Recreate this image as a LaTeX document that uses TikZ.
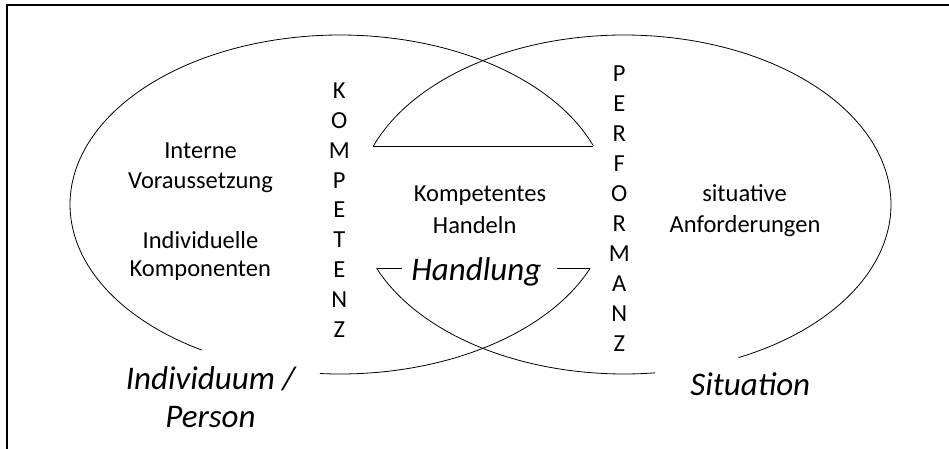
\documentclass[tikz,border=0pt]{standalone}
\usepackage{fontspec}
\setmainfont{Carlito}
\begin{document}
\begin{tikzpicture}[x=1pt,y=-1pt]
\useasboundingbox (0,0) rectangle (949,449);
\tikzset{
  lbl/.style={anchor=base, inner sep=0pt, font=\fontsize{24.5}{29}\selectfont},
  big/.style={anchor=base, inner sep=0pt, font=\fontsize{33}{38}\selectfont\itshape},
  curve/.style={line width=0.8pt, black},
  frameline/.style={line width=1.5pt, black}
}
% frame
\coordinate (f1) at (949,5);
\coordinate (f2) at (7,5);
\coordinate (f3) at (7,449);
\draw[frameline] (f1) -- (f2) -- (f3);

% left ellipse (Individuum / Person)
\draw[curve] plot[domain=120.8:339.8, samples=150] ({340+270*cos(\x)},{204.5+169.5*sin(\x)});
\draw[curve] plot[domain=22.1:94.3, samples=60] ({340+270*cos(\x)},{204.5+169.5*sin(\x)});
% right ellipse (Situation)
\draw[curve] plot[domain=200.2:424.6, samples=150] ({624+267*cos(\x)},{204.5+169.5*sin(\x)});
\draw[curve] plot[domain=83.3:157.9, samples=60] ({624+267*cos(\x)},{204.5+169.5*sin(\x)});

% line ends
\coordinate (LT) at ({340+270*cos(339.8)},{204.5+169.5*sin(339.8)});
\coordinate (RT) at ({624+267*cos(200.2)},{204.5+169.5*sin(200.2)});
\coordinate (LB) at ({340+270*cos(22.1)},{204.5+169.5*sin(22.1)});
\coordinate (RB) at ({624+267*cos(157.9)},{204.5+169.5*sin(157.9)});
\coordinate (LBe) at (557,{204.5+169.5*sin(22.1)});
\coordinate (RBe) at (402,{204.5+169.5*sin(157.9)});
\draw[curve] (LT) -- (RT);
\draw[curve] (RB) -- (RBe);
\draw[curve] (LBe) -- (LB);

% vertical words
\foreach \l [count=\i] in {K,O,M,P,E,T,E,N,Z}
  \node[lbl] (k\i) at (339.3,{98.3+(\i-1)*29.9}) {\l};
\foreach \l [count=\i] in {P,E,R,F,O,R,M,A,N,Z}
  \node[lbl] (p\i) at (619.3,{81.7+(\i-1)*30}) {\l};

% texts
\node[lbl] (int) at (200.6,158.3) {Interne};
\node[lbl] (vor) at (200.5,188.3) {Voraussetzung};
\node[lbl] (ind) at (200.5,248.3) {Individuelle};
\node[lbl] (kom) at (200.3,276.7) {Komponenten};
\node[lbl] (kh1) at (480,201.7) {Kompetentes};
\node[lbl] (kh2) at (474.7,233.3) {Handeln};
\node[lbl] (sit1) at (744.5,201.7) {situative};
\node[lbl] (sit2) at (745,232.7) {Anforderungen};
\node[big] (hand) at (476.3,280) {Handlung};
\node[big] (sit) at (750.3,395) {Situation};
\node[big] (per1) at (210.5,389.3) {Individuum /};
\node[big] (per2) at (210.5,427.3) {Person};
\end{tikzpicture}
\end{document}
